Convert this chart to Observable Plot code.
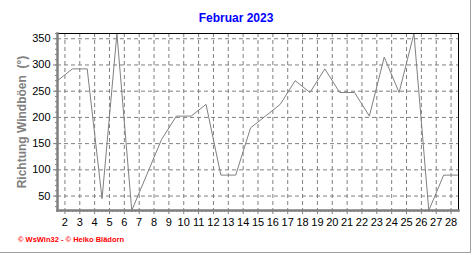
<!DOCTYPE html>
<html><head><meta charset="utf-8">
<script src="https://cdn.jsdelivr.net/npm/d3@7"></script>
<script src="https://cdn.jsdelivr.net/npm/@observablehq/plot@0.6"></script>
<style>
body{margin:0;background:#fff;}
#wrap{position:relative;width:472px;height:255px;overflow:hidden;font-family:Arial,"Liberation Sans",sans-serif;}
#wrap svg{position:absolute;left:0;top:0;}
#title{position:absolute;left:0;width:472px;top:11px;text-align:center;color:#0000ff;font-weight:bold;font-size:12px;}
#ylab{position:absolute;left:22px;top:122px;transform:translate(-50%,-50%) rotate(-90deg);white-space:nowrap;color:#808080;font-weight:bold;font-size:12px;}
#foot{position:absolute;left:18px;top:235px;color:#ff0000;font-size:7.5px;font-weight:bold;white-space:nowrap;}
#border{position:absolute;left:0;top:0;width:470px;height:252px;border-right:1px solid #a0a0a0;border-bottom:1px solid #a0a0a0;}
</style>
</head><body>
<div id="wrap">
  <div id="border"></div>
  <div id="chart"></div>
  <div id="title">Februar 2023</div>
  <div id="ylab">Richtung Windböen&nbsp;&nbsp;(°)</div>
  <div id="foot">© WsWin32 - © Heiko Blädorn</div>
</div>
<script>
const days = [1,2,3,4,5,6,7,8,9,10,11,12,13,14,15,16,17,18,19,20,21,22,23,24,25,26,27,28];
const direction = [270,292.5,292.5,45,360,22.5,90,157.5,202.5,202.5,225,90,90,180,202.5,225,270,247.5,292.5,247.5,247.5,202.5,315,247.5,360,22.5,90,90];
const xTicks = [2,3,4,5,6,7,8,9,10,11,12,13,14,15,16,17,18,19,20,21,22,23,24,25,26,27,28];
const yTicks = [50,100,150,200,250,300,350];

const rows = days.map((d, i) => ({day: d, dir: direction[i]}));
const xMinor = d3.range(1.5, 28.51, 0.25);
const yMinor = d3.range(30, 361, 10);

const plot = Plot.plot({
  width: 472, height: 255,
  marginLeft: 57, marginRight: 14, marginTop: 33, marginBottom: 45,
  style: {fontFamily: "Arial, 'Liberation Sans', sans-serif", fontSize: "11px", color: "black", background: "transparent"},
  x: {domain: [1.5, 28.5], label: null},
  y: {domain: [22.5, 360], label: null},
  marks: [
    Plot.ruleY(yTicks, {stroke: "#808080", strokeDasharray: "4,3", strokeWidth: 1}),
    Plot.ruleX(xTicks, {stroke: "#808080", strokeDasharray: "4,3", strokeWidth: 1}),
    Plot.line(rows, {x: d => d.day + 0.5, y: "dir", stroke: "#808080", strokeWidth: 1}),
    Plot.frame({stroke: "black", strokeWidth: 1}),
    Plot.frame({anchor: "left", stroke: "#808080", strokeWidth: 2.5}),
    Plot.frame({anchor: "bottom", stroke: "#808080", strokeWidth: 2.5}),
    Plot.axisY({ticks: yTicks, tickSize: 4, tickPadding: 3, stroke: "#808080", fill: "black", label: null}),
    Plot.axisY({ticks: yMinor, tickSize: 2, tickFormat: () => "", stroke: "#808080", label: null}),
    Plot.axisX({ticks: xTicks, tickSize: 4, tickPadding: 4, stroke: "#808080", fill: "black", label: null}),
    Plot.axisX({ticks: xMinor, tickSize: 2, tickFormat: () => "", stroke: "#808080", label: null})
  ]
});
document.getElementById("chart").appendChild(plot);
</script>
</body></html>
